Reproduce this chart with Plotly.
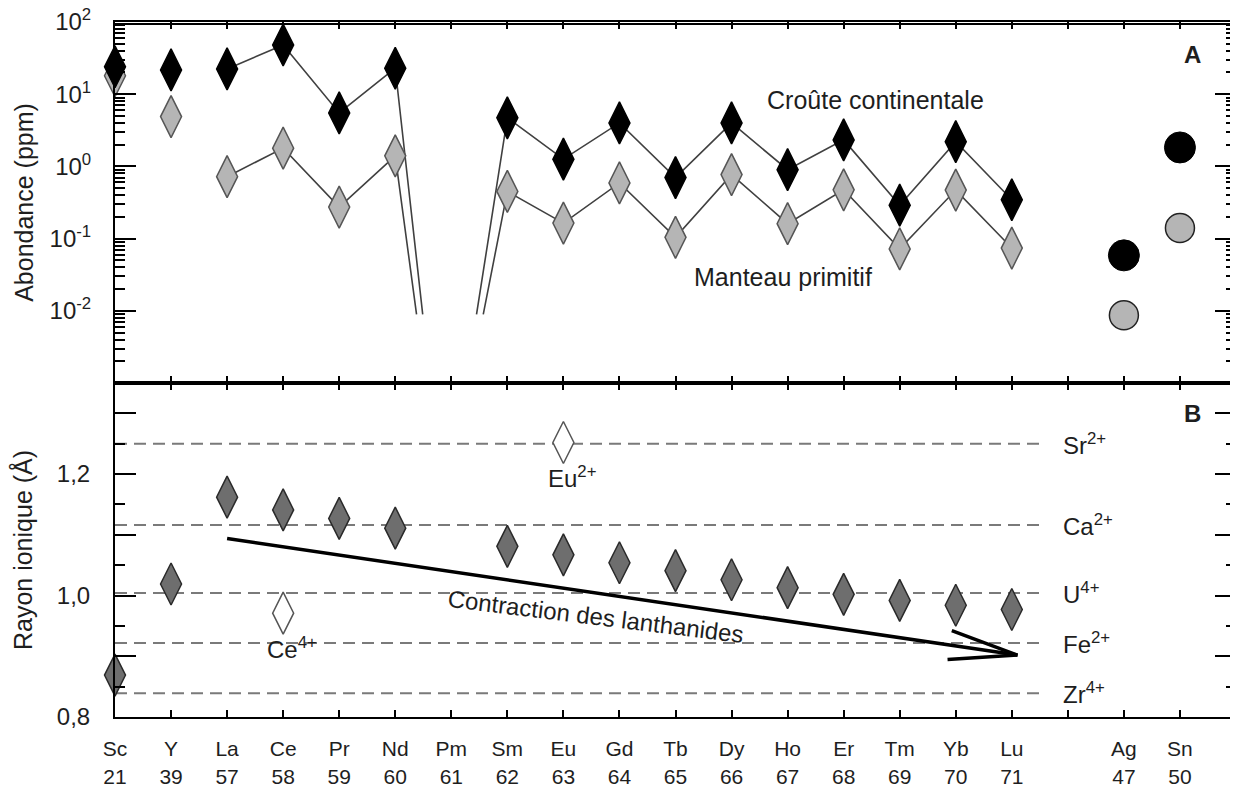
import math
import plotly.graph_objects as go

# ---------------- data ----------------
categories = ["Sc", "Y", "La", "Ce", "Pr", "Nd", "Pm", "Sm", "Eu", "Gd", "Tb", "Dy",
              "Ho", "Er", "Tm", "Yb", "Lu", "", "Ag", "Sn"]
atomic_numbers = ["21", "39", "57", "58", "59", "60", "61", "62", "63", "64", "65", "66",
                  "67", "68", "69", "70", "71", "", "47", "50"]

# Panel A : abundances (ppm)
solo_elements = ["Sc", "Y"]
crust_solo = [24.0, 21.7]
mantle_solo = [18.0, 4.9]

ree_before_pm = ["La", "Ce", "Pr", "Nd"]
crust_before_pm = [22.4, 48.0, 5.5, 22.9]
mantle_before_pm = [0.72, 1.79, 0.273, 1.40]

ree_after_pm = ["Sm", "Eu", "Gd", "Tb", "Dy", "Ho", "Er", "Tm", "Yb", "Lu"]
crust_after_pm = [4.7, 1.26, 4.0, 0.70, 4.0, 0.90, 2.33, 0.29, 2.2, 0.345]
mantle_after_pm = [0.45, 0.164, 0.59, 0.104, 0.77, 0.161, 0.474, 0.072, 0.47, 0.074]

metals = ["Ag", "Sn"]
crust_metals = [0.0586, 1.83]
mantle_metals = [0.0087, 0.14]

# broken lines towards Pm (no stable isotope)
pm_floor = 0.0089
crust_break_x = [5.49, 6.45]
mantle_break_x = [5.38, 6.57]

# Panel B : ionic radii (Å)
radius_elements = ["Sc", "Y", "La", "Ce", "Pr", "Nd", "Sm", "Eu", "Gd", "Tb", "Dy",
                   "Ho", "Er", "Tm", "Yb", "Lu"]
radius_values = [0.869, 1.019, 1.162, 1.141, 1.127, 1.111, 1.081, 1.067, 1.054, 1.041,
                 1.026, 1.013, 1.002, 0.992, 0.984, 0.977]

alt_ion_elements = ["Eu", "Ce"]
alt_ion_labels = ["Eu<sup>2+</sup>", "Ce<sup>4+</sup>"]
alt_ion_values = [1.252, 0.971]

ref_ions = ["Sr<sup>2+</sup>", "Ca<sup>2+</sup>", "U<sup>4+</sup>", "Fe<sup>2+</sup>", "Zr<sup>4+</sup>"]
ref_radius = [1.25, 1.116, 1.004, 0.922, 0.839]

arrow_x = [2.0, 16.1]
arrow_y = [1.094, 0.902]

# ---------------- layout geometry ----------------
# the page body has an 8px default margin, so the figure is sized to fit the window
W, H = 1230, 783
ML, MR, MT, MB = 107, 2, 14, 74
top_h, bot_h = 361, 334
split = bot_h / (top_h + bot_h)
XR = [0, 20]
YR2 = [0.8, 1.35]

FONT = "Liberation Sans, Arial, sans-serif"
TXT = "#1e1e1e"


def xi(names):
    return [categories.index(n) for n in names]


fig = go.Figure()

line_col = "#404040"
crust_fill, mantle_fill = "#000000", "#b5b5b5"
DSIZE = 30

# mantle connecting line with break
mx = xi(ree_before_pm) + [mantle_break_x[0], None, mantle_break_x[1]] + xi(ree_after_pm)
my = mantle_before_pm + [pm_floor, None, pm_floor] + mantle_after_pm
fig.add_trace(go.Scatter(x=mx, y=my, mode="lines", line=dict(color=line_col, width=1.6),
                         xaxis="x", yaxis="y", hoverinfo="skip"))
cx = xi(ree_before_pm) + [crust_break_x[0], None, crust_break_x[1]] + xi(ree_after_pm)
cy = crust_before_pm + [pm_floor, None, pm_floor] + crust_after_pm
fig.add_trace(go.Scatter(x=cx, y=cy, mode="lines", line=dict(color=line_col, width=1.6),
                         xaxis="x", yaxis="y", hoverinfo="skip"))

# mantle diamonds
fig.add_trace(go.Scatter(
    x=xi(solo_elements + ree_before_pm + ree_after_pm),
    y=mantle_solo + mantle_before_pm + mantle_after_pm,
    mode="markers", cliponaxis=False,
    marker=dict(symbol="diamond-tall", size=DSIZE, color=mantle_fill,
                line=dict(color="#555555", width=1.5)),
    xaxis="x", yaxis="y", name="Manteau primitif"))
# crust diamonds
fig.add_trace(go.Scatter(
    x=xi(solo_elements + ree_before_pm + ree_after_pm),
    y=crust_solo + crust_before_pm + crust_after_pm,
    mode="markers", cliponaxis=False,
    marker=dict(symbol="diamond-tall", size=DSIZE, color=crust_fill,
                line=dict(color="#000000", width=1.5)),
    xaxis="x", yaxis="y", name="Croûte continentale"))
# metals circles
fig.add_trace(go.Scatter(x=xi(metals), y=mantle_metals, mode="markers",
                         marker=dict(symbol="circle", size=29, color=mantle_fill,
                                     line=dict(color="#222222", width=1.5)),
                         xaxis="x", yaxis="y"))
fig.add_trace(go.Scatter(x=xi(metals), y=crust_metals, mode="markers",
                         marker=dict(symbol="circle", size=31, color="#000000",
                                     line=dict(color="#000000", width=1)),
                         xaxis="x", yaxis="y"))

# ---- panel B ----
ref_end = 16.5
for v in ref_radius:
    fig.add_trace(go.Scatter(x=[XR[0], ref_end], y=[v, v], mode="lines",
                             line=dict(color="#7a7a7a", width=2, dash="12px,7px"),
                             xaxis="x2", yaxis="y2", hoverinfo="skip"))

fig.add_trace(go.Scatter(x=xi(radius_elements), y=radius_values, mode="markers",
                         cliponaxis=False,
                         marker=dict(symbol="diamond-tall", size=DSIZE, color="#6e6e6e",
                                     line=dict(color="#2a2a2a", width=1.5)),
                         xaxis="x2", yaxis="y2"))
fig.add_trace(go.Scatter(x=xi(alt_ion_elements), y=alt_ion_values, mode="markers",
                         marker=dict(symbol="diamond-tall", size=DSIZE, color="#ffffff",
                                     line=dict(color="#555555", width=1.5)),
                         xaxis="x2", yaxis="y2"))

# arrow (shaft + open head), head computed in pixel space
plot_w = W - ML - MR
px_x = plot_w / (XR[1] - XR[0])
px_y = bot_h / (YR2[1] - YR2[0])
dxp = (arrow_x[0] - arrow_x[1]) * px_x
dyp = -(arrow_y[0] - arrow_y[1]) * px_y
ang = math.atan2(dyp, dxp)
head_len = 70
hx, hy = [], []
for s in (1, -1):
    a = ang + s * math.radians(12)
    hx.append(arrow_x[1] + head_len * math.cos(a) / px_x)
    hy.append(arrow_y[1] - head_len * math.sin(a) / px_y)
fig.add_trace(go.Scatter(
    x=[arrow_x[0], arrow_x[1], None, hx[0], arrow_x[1], hx[1]],
    y=[arrow_y[0], arrow_y[1], None, hy[0], arrow_y[1], hy[1]],
    mode="lines", line=dict(color="#000000", width=3.5),
    xaxis="x2", yaxis="y2", hoverinfo="skip"))

# ---------------- annotations ----------------
ann = []
def A(text, x, y, xref, yref, size=24, xanchor="left", yanchor="middle", **kw):
    ann.append(dict(text=text, x=x, y=y, xref=xref, yref=yref, showarrow=False,
                    xanchor=xanchor, yanchor=yanchor,
                    font=dict(family=FONT, size=size, color=TXT), **kw))

A("Croûte continentale", 11.6, math.log10(8.3), "x", "y", size=25)
A("Manteau primitif", 10.3, math.log10(0.0297), "x", "y", size=25)
A("<b>A</b>", 19.22, 1.544, "x", "y", xanchor="center")
A("<b>B</b>", 19.22, 1.299, "x2", "y2", xanchor="center")
for lab, v in zip(ref_ions, ref_radius):
    A(lab, 16.88, v, "x2", "y2")
A(alt_ion_labels[0], 8.16, 1.195, "x2", "y2", xanchor="center")
A(alt_ion_labels[1], 3.16, 0.914, "x2", "y2", xanchor="center")
A("Contraction des lanthanides", 8.59, 0.965, "x2", "y2", xanchor="center", textangle=7)

ticktext_x = [f"{c}<br>{n}" for c, n in zip(categories, atomic_numbers)]

axis_common = dict(showline=True, linecolor="#000000", linewidth=2, mirror="allticks",
                   showgrid=False, zeroline=False, ticks="inside", tickcolor="#000000",
                   tickwidth=2, automargin=False, ticklabeloverflow="allow",
                   tickfont=dict(family=FONT, size=24, color=TXT))

# panel frames (top and right edges, drawn just inside the plot area)
top_inset = 1.0 / top_h
right_inset = 1.0 / plot_w
frames = [
    dict(type="line", xref="paper", yref="paper", x0=0, x1=1, y0=1 - top_inset, y1=1 - top_inset,
         line=dict(color="#000000", width=2), layer="above"),
    dict(type="line", xref="paper", yref="paper", x0=1 - right_inset, x1=1 - right_inset, y0=0, y1=1,
         line=dict(color="#000000", width=2), layer="above"),
]

fig.update_layout(
    width=W, height=H, margin=dict(l=ML, r=MR, t=MT, b=MB, autoexpand=False),
    paper_bgcolor="white", plot_bgcolor="white", showlegend=False,
    annotations=ann, shapes=frames,
    xaxis=dict(**axis_common, domain=[0, 1], range=XR, anchor="y",
               tickvals=list(range(len(categories))), ticklen=7, showticklabels=False),
    xaxis2=dict(**{**axis_common, "tickfont": dict(family=FONT, size=21, color=TXT)},
                domain=[0, 1], range=XR, anchor="y2", matches="x",
                tickvals=list(range(len(categories))), ticktext=ticktext_x, ticklen=7,
                ticklabelstandoff=12),
    yaxis=dict(**axis_common, domain=[split, 1], type="log", range=[-3, 2], anchor="x",
               tickvals=[0.01, 0.1, 1, 10, 100],
               ticktext=["10<sup>-2</sup>", "10<sup>-1</sup>", "10<sup>0</sup>",
                         "10<sup>1</sup>", "10<sup>2</sup>"],
               ticklen=21, ticklabelstandoff=17,
               minor=dict(ticks="inside", ticklen=10, tickwidth=2, tickcolor="#000000",
                          dtick="D1", showgrid=False),
               title=dict(text="Abondance (ppm)", font=dict(family=FONT, size=25, color=TXT),
                          standoff=9)),
    yaxis2=dict(**axis_common, domain=[0, split], range=YR2, anchor="x2",
                tickvals=[0.8, 0.9, 1.0, 1.1, 1.2, 1.3],
                ticktext=["0,8", "", "1,0", "", "1,2", ""],
                ticklen=21, ticklabelstandoff=18,
                minor=dict(ticks="inside", ticklen=10, tickwidth=2, tickcolor="#000000",
                           dtick=0.05, tick0=0.8, showgrid=False),
                title=dict(text="Rayon ionique (Å)", font=dict(family=FONT, size=25, color=TXT),
                           standoff=18)),
)

fig.write_html("out.html")
